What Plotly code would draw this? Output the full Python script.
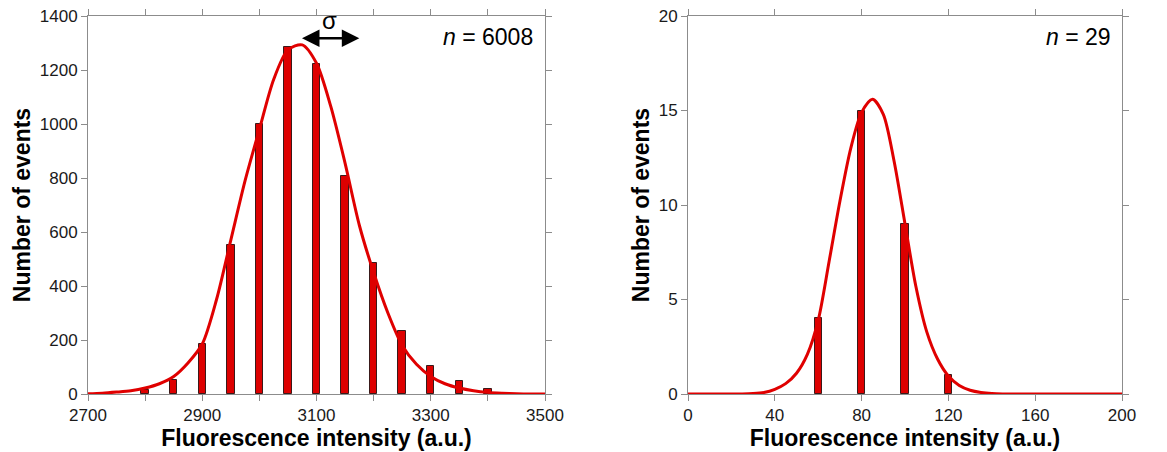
import plotly.graph_objects as go

# Histogram of single-molecule fluorescence intensities (left) and the small sample (right)
left_bins = [2800, 2850, 2900, 2950, 3000, 3050, 3100, 3150, 3200, 3250, 3300, 3350, 3400]
left_counts = [15, 52, 186, 552, 1000, 1287, 1222, 806, 485, 235, 102, 47, 18]

left_fit_x = [2700, 2725, 2750, 2775, 2800, 2825, 2850, 2875, 2900, 2925, 2950, 2975,
              3000, 3025, 3050, 3075, 3100, 3125, 3150, 3175, 3200, 3225, 3250, 3275,
              3300, 3325, 3350, 3375, 3400, 3425, 3450, 3475, 3500]
left_fit_y = [1, 3, 7, 12, 22, 38, 65, 115, 185, 350, 570, 790,
              980, 1165, 1275, 1293, 1225, 1065, 855, 625, 450, 300, 180, 110,
              65, 38, 22, 12, 6, 3, 1, 0, 0]

right_bins = [60, 80, 100, 120]
right_counts = [4, 15, 9, 1]

right_fit_x = [0, 25, 30, 35, 40, 45, 50, 55, 60, 65, 70, 75, 80, 85, 90, 95, 100, 105,
               110, 115, 120, 125, 130, 135, 140, 145, 200]
right_fit_y = [0, 0, 0.02, 0.08, 0.25, 0.55, 1.1, 2.1, 3.9, 7.0, 10.2, 13.0, 14.9, 15.6,
               14.8, 12.3, 9.0, 5.7, 3.3, 1.85, 0.95, 0.45, 0.2, 0.08, 0.02, 0, 0]

left_xticks = list(range(2700, 3501, 100))
left_xtext = [str(v) if (v - 2700) % 200 == 0 else "" for v in left_xticks]
left_yticks = list(range(0, 1401, 200))
right_xticks = list(range(0, 201, 40))
right_yticks = [0, 5, 10, 15, 20]

n_left = 6008
n_right = 29

BAR_RED = "#dd0000"
FIT_RED = "#e00000"
AXIS_GREY = "#8c8c8c"
FONT = "Liberation Sans, Arial, sans-serif"

fig = go.Figure()

fig.add_trace(go.Bar(x=left_bins, y=left_counts, width=13,
                     marker=dict(color=BAR_RED, line=dict(color="#3a1a1a", width=1)),
                     xaxis="x", yaxis="y", showlegend=False))
fig.add_trace(go.Scatter(x=left_fit_x, y=left_fit_y, mode="lines",
                         line=dict(color=FIT_RED, width=3, shape="spline", smoothing=0.8),
                         xaxis="x", yaxis="y", showlegend=False))

fig.add_trace(go.Bar(x=right_bins, y=right_counts, width=3.3,
                     marker=dict(color=BAR_RED, line=dict(color="#3a1a1a", width=1)),
                     xaxis="x2", yaxis="y2", showlegend=False))
fig.add_trace(go.Scatter(x=right_fit_x, y=right_fit_y, mode="lines",
                         line=dict(color=FIT_RED, width=3, shape="spline", smoothing=0.8),
                         xaxis="x2", yaxis="y2", showlegend=False))

W, H = 1167, 452
ydom = [(H - 394) / H, (H - 16) / H]

axis_common = dict(
    showline=True, linecolor=AXIS_GREY, linewidth=1,
    ticks="outside", ticklen=6, tickcolor=AXIS_GREY, tickwidth=1,
    mirror="ticks", showgrid=False, zeroline=False, automargin=False,
    tickfont=dict(family=FONT, size=17, color="#1a1a1a"),
)
title_font = dict(family=FONT, size=23, color="#000000")

fig.update_layout(
    width=W, height=H,
    margin=dict(l=0, r=0, t=0, b=0),
    paper_bgcolor="white", plot_bgcolor="white",
    bargap=0,
    xaxis=dict(domain=[88 / W, 545 / W], range=[2700, 3500],
               tickmode="array", tickvals=left_xticks, ticktext=left_xtext,
               title=dict(text="<b>Fluorescence intensity (a.u.)</b>", font=title_font, standoff=2),
               anchor="y", **axis_common),
    yaxis=dict(domain=ydom, range=[0, 1400],
               tickmode="array", tickvals=left_yticks,
               title=dict(text="<b>Number of events</b>", font=title_font, standoff=2),
               anchor="x", **axis_common),
    xaxis2=dict(domain=[688 / W, 1122 / W], range=[0, 200],
                tickmode="array", tickvals=right_xticks,
                title=dict(text="<b>Fluorescence intensity (a.u.)</b>", font=title_font, standoff=2),
                anchor="y2", **axis_common),
    yaxis2=dict(domain=ydom, range=[0, 20],
                tickmode="array", tickvals=right_yticks,
                title=dict(text="<b>Number of events</b>", font=title_font, standoff=2),
                anchor="x2", **axis_common),
)

# sample-size labels
fig.add_annotation(xref="x domain", yref="y domain", x=0.978, y=0.945,
                   xanchor="right", yanchor="middle", showarrow=False,
                   text=f"<i>n</i> = {n_left}", font=dict(family=FONT, size=23, color="#000"))
fig.add_annotation(xref="x2 domain", yref="y2 domain", x=0.98, y=0.945,
                   xanchor="right", yanchor="middle", showarrow=False,
                   text=f"<i>n</i> = {n_right}", font=dict(family=FONT, size=23, color="#000"))

# width marker above the peak
sigma_start, sigma_end, sigma_level = 3072, 3175, 1318
fig.add_annotation(xref="x", yref="y", x=sigma_end, y=sigma_level,
                   axref="x", ayref="y", ax=sigma_start, ay=sigma_level,
                   text="", showarrow=True, arrowside="end+start",
                   arrowhead=2, arrowsize=1.4, arrowwidth=2.5, arrowcolor="#000")
fig.add_annotation(xref="x", yref="y", x=(sigma_start + sigma_end) / 2, y=1385,
                   text="σ", showarrow=False, yanchor="middle",
                   font=dict(family=FONT, size=24, color="#000"))

fig.write_html("out.html")
